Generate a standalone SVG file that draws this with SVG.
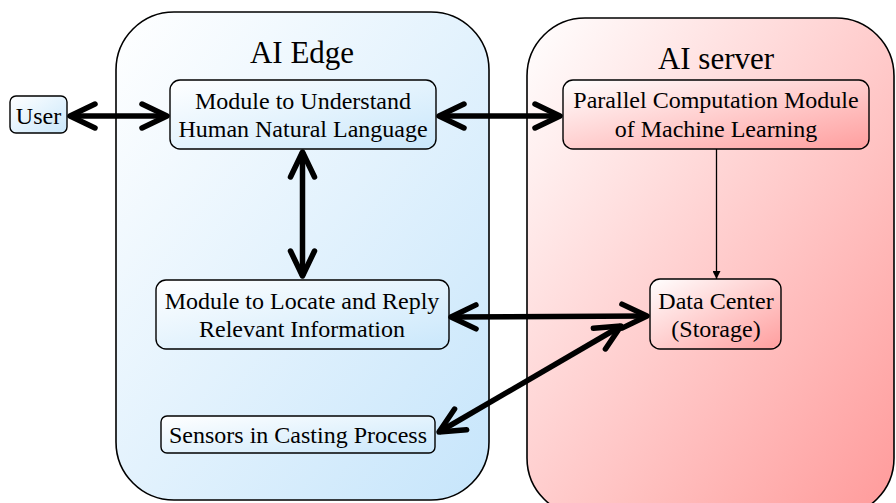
<svg xmlns="http://www.w3.org/2000/svg" width="896" height="503" viewBox="0 0 896 503">
<defs>
<linearGradient id="gBlue" x1="0" y1="0" x2="1" y2="1"><stop offset="0" stop-color="#ffffff"/><stop offset="1" stop-color="#c6e5fb"/></linearGradient>
<linearGradient id="gRed" x1="0" y1="0" x2="1" y2="1"><stop offset="0" stop-color="#ffffff"/><stop offset="1" stop-color="#ff9a9a"/></linearGradient>
<linearGradient id="nBlue" x1="0" y1="0" x2="1" y2="1"><stop offset="0" stop-color="#ffffff"/><stop offset="1" stop-color="#c9e7fb"/></linearGradient>
<linearGradient id="nRed" x1="0" y1="0" x2="1" y2="1"><stop offset="0" stop-color="#ffffff"/><stop offset="1" stop-color="#ff9e9e"/></linearGradient>
<marker id="chev" viewBox="-30 -16 34 32" refX="0" refY="0" markerWidth="34" markerHeight="32" markerUnits="userSpaceOnUse" orient="auto-start-reverse" overflow="visible">
<path d="M-25,-12 L0,0 L-25,12" fill="none" stroke="#000" stroke-width="5.5" stroke-linecap="round" stroke-linejoin="round"/>
</marker>
<marker id="tri" viewBox="0 0 10 10" refX="10" refY="5" markerWidth="8" markerHeight="8" markerUnits="userSpaceOnUse" orient="auto">
<path d="M0,0 L10,5 L0,10 Z" fill="#000"/>
</marker>
</defs>
<style>
.cont{stroke:#000;stroke-width:1.6}
.node{stroke:#000;stroke-width:1.4}
.title{font-family:"Liberation Serif","Times New Roman",serif;font-size:31px;fill:#000;text-anchor:middle}
.lbl{font-family:"Liberation Serif","Times New Roman",serif;font-size:24px;fill:#000;text-anchor:middle}
.thick{stroke:#000;stroke-width:5.5;fill:none;marker-start:url(#chev);marker-end:url(#chev)}
.thin{stroke:#000;stroke-width:1.3;fill:none;marker-end:url(#tri)}
</style>
<g id="ai-edge">
<rect class="cont" x="116" y="12" width="373" height="488" rx="58" fill="url(#gBlue)"/>
<text class="title" x="302" y="63">AI Edge</text>
</g>
<g id="ai-server">
<rect class="cont" x="527" y="18" width="367" height="498" rx="58" fill="url(#gRed)"/>
<text class="title" x="716" y="69">AI server</text>
</g>
<g id="user">
<rect class="node" x="10" y="96" width="57" height="37" rx="6" fill="url(#nBlue)"/>
<text class="lbl" x="38.5" y="124">User</text>
</g>
<g id="understand">
<rect class="node" x="170" y="80" width="266" height="69" rx="10" fill="url(#nBlue)"/>
<text class="lbl" x="303" y="109">Module to Understand</text>
<text class="lbl" x="303" y="137">Human Natural Language</text>
</g>
<g id="parallel">
<rect class="node" x="563" y="80" width="306" height="69" rx="10" fill="url(#nRed)"/>
<text class="lbl" x="716" y="108">Parallel Computation Module</text>
<text class="lbl" x="716" y="137">of Machine Learning</text>
</g>
<g id="locate">
<rect class="node" x="156" y="280" width="293" height="69" rx="10" fill="url(#nBlue)"/>
<text class="lbl" x="302" y="309">Module to Locate and Reply</text>
<text class="lbl" x="302" y="337">Relevant Information</text>
</g>
<g id="datacenter">
<rect class="node" x="650" y="279" width="131" height="70" rx="10" fill="url(#nRed)"/>
<text class="lbl" x="716" y="309">Data Center</text>
<text class="lbl" x="716" y="337">(Storage)</text>
</g>
<g id="sensors">
<rect class="node" x="161" y="416" width="274" height="37" rx="6" fill="url(#nBlue)"/>
<text class="lbl" x="298" y="443">Sensors in Casting Process</text>
</g>
<g id="connectors">
<line class="thick" x1="70" y1="116" x2="167" y2="116"/>
<line class="thick" x1="439" y1="116" x2="560" y2="116"/>
<line class="thick" x1="302.5" y1="152" x2="302.5" y2="276"/>
<line class="thick" x1="451" y1="317" x2="647" y2="316"/>
<line class="thick" x1="439" y1="432" x2="621" y2="326"/>
<line class="thin" x1="716.5" y1="149" x2="716.5" y2="279"/>
</g>
</svg>
